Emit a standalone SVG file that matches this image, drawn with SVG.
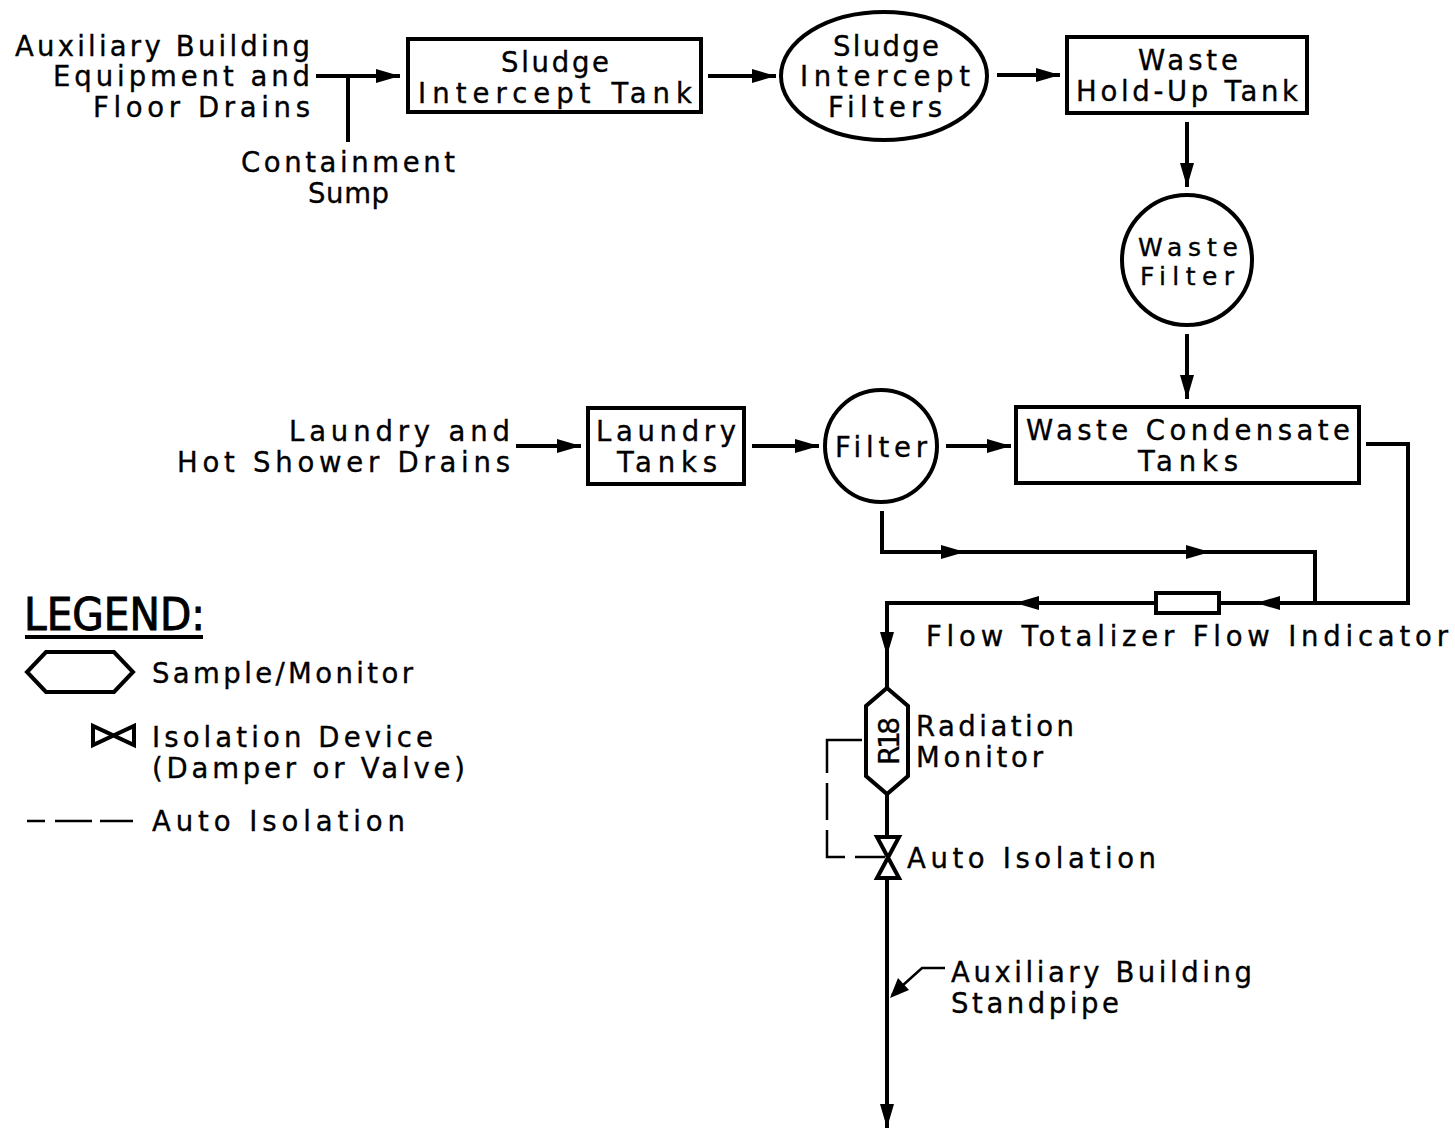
<svg xmlns="http://www.w3.org/2000/svg" width="1455" height="1129" viewBox="0 0 1455 1129">
<style>
text{font-family:"DejaVu Sans","Liberation Sans",sans-serif;font-size:27.5px;font-weight:400;fill:#000;stroke:#000;stroke-width:.35}
.shape{fill:#fff;stroke:#000;stroke-width:4}
.ln{fill:none;stroke:#000;stroke-width:4}
.thin{fill:none;stroke:#000;stroke-width:2.5}
</style>
<defs>
<marker id="ah" markerUnits="userSpaceOnUse" markerWidth="26" markerHeight="18" refX="24" refY="9" orient="auto"><path d="M0 2L24 9L0 16Z" fill="#000"/></marker>
</defs>
<rect width="1455" height="1129" fill="#fff"/>
<g id="connectors">
<path class="ln" d="M316 76H348M348 76V142"/>
<path class="ln" d="M348 76H400" marker-end="url(#ah)"/>
<path class="ln" d="M708 76H776" marker-end="url(#ah)"/>
<path class="ln" d="M997 75H1060" marker-end="url(#ah)"/>
<path class="ln" d="M1187 122V187" marker-end="url(#ah)"/>
<path class="ln" d="M1187 334V399" marker-end="url(#ah)"/>
<path class="ln" d="M516 446H581" marker-end="url(#ah)"/>
<path class="ln" d="M752 446H819" marker-end="url(#ah)"/>
<path class="ln" d="M946 446H1011" marker-end="url(#ah)"/>
<path class="ln" d="M882 511V552H965" marker-end="url(#ah)"/>
<path class="ln" d="M965 552H1210" marker-end="url(#ah)"/>
<path class="ln" d="M1210 552H1315V603"/>
<path class="ln" d="M1366 444H1408V603H1256" marker-end="url(#ah)"/>
<path class="ln" d="M1256 603H1219"/>
<path class="ln" d="M1156 603H1015" marker-end="url(#ah)"/>
<path class="ln" d="M1015 603H887V656" marker-end="url(#ah)"/>
<path class="ln" d="M887 656V688M887 794V836M887 878V1105"/>
<path class="ln" d="M887 1105V1128" marker-end="url(#ah)"/>
<path class="thin" d="M945 968H922L892 995"/>
<path d="M890 998L898 978L909 990Z" fill="#000"/>
<path class="thin" d="M862 740H827V773M827 783V820M827 830V857H845M855 857H885"/>
</g>
<g id="source-aux"><text text-anchor="end" x="310" y="56" textLength="295">Auxiliary Building</text><text text-anchor="end" x="310" y="86" textLength="257">Equipment and</text><text text-anchor="end" x="310" y="117" textLength="217">Floor Drains</text></g>
<g id="source-sump"><text x="241" y="172" textLength="214">Containment</text><text x="308" y="203" textLength="81">Sump</text></g>
<g id="sludge-tank"><rect class="shape" x="408" y="39" width="293" height="73"/><text x="501" y="72" textLength="108">Sludge</text><text x="418" y="103" textLength="274">Intercept Tank</text></g>
<g id="sludge-filters"><ellipse class="shape" cx="884" cy="76" rx="103" ry="64"/><text x="833" y="56" textLength="106">Sludge</text><text x="800" y="86" textLength="170">Intercept</text><text x="828" y="117" textLength="114">Filters</text></g>
<g id="holdup-tank"><rect class="shape" x="1067" y="37" width="240" height="76"/><text x="1138" y="70" textLength="100">Waste</text><text x="1076" y="101" textLength="222">Hold-Up Tank</text></g>
<g id="waste-filter"><circle class="shape" cx="1187" cy="260" r="65"/><text x="1138" y="256" textLength="100" style="font-size:25px">Waste</text><text x="1140" y="285" textLength="94" style="font-size:25px">Filter</text></g>
<g id="source-laundry"><text text-anchor="end" x="510" y="441" textLength="221">Laundry and</text><text text-anchor="end" x="510" y="472" textLength="333">Hot Shower Drains</text></g>
<g id="laundry-tanks"><rect class="shape" x="588" y="408" width="156" height="76"/><text x="596" y="441" textLength="140">Laundry</text><text x="617" y="472" textLength="100">Tanks</text></g>
<g id="filter"><circle class="shape" cx="881" cy="446" r="56"/><text x="835" y="457" textLength="92">Filter</text></g>
<g id="condensate-tanks"><rect class="shape" x="1016" y="407" width="343" height="76"/><text x="1026" y="440" textLength="324">Waste Condensate</text><text x="1138" y="471" textLength="100">Tanks</text></g>
<g id="flow-meter"><rect class="shape" x="1156" y="593" width="63" height="20"/><text x="926" y="646" textLength="522">Flow Totalizer Flow Indicator</text></g>
<g id="radiation-monitor"><path class="shape" d="M887 688L908 706V776L887 794L866 776V706Z"/><text transform="translate(899 765) rotate(-90)" textLength="48" style="font-size:28px">R18</text><text x="916" y="736" textLength="158">Radiation</text><text x="916" y="767" textLength="127">Monitor</text></g>
<g id="auto-isolation"><path class="shape" d="M877 837H899L877 878H899Z"/><text x="907" y="868" textLength="249">Auto Isolation</text></g>
<g id="standpipe"><text x="951" y="982" textLength="301">Auxiliary Building</text><text x="951" y="1013" textLength="168">Standpipe</text></g>
<g id="legend">
<text x="24" y="630" style="font-size:44px;stroke-width:1" textLength="181" lengthAdjust="spacingAndGlyphs">LEGEND:</text>
<path class="ln" d="M25 637H203"/>
<path class="shape" d="M46 652H114L133 672L114 692H46L27 672Z"/>
<text x="152" y="683" textLength="261">Sample/Monitor</text>
<path class="shape" d="M93 726V745L134 726V745Z"/>
<text x="152" y="747" textLength="281">Isolation Device</text>
<text x="152" y="778" textLength="313">(Damper or Valve)</text>
<path class="thin" d="M27 821H45M55 821H92M100 821H133"/>
<text x="152" y="831" textLength="253">Auto Isolation</text>
</g>
</svg>
